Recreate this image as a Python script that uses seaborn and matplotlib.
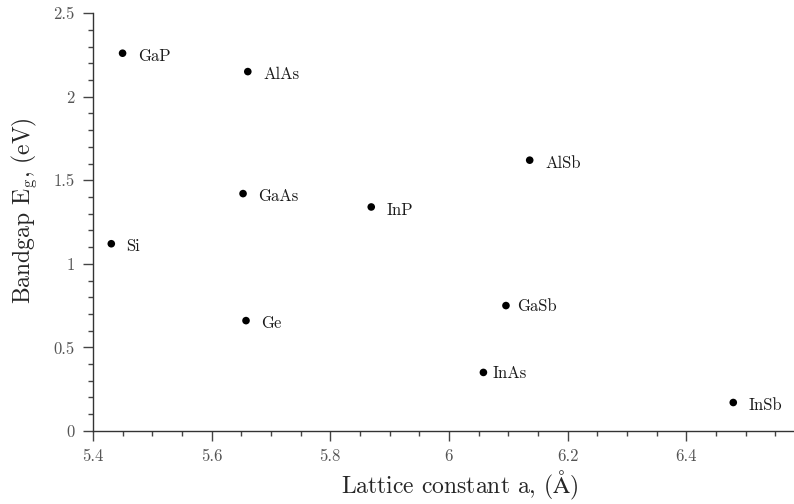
import matplotlib
matplotlib.use("Agg")
import pandas as pd
import seaborn as sns
import matplotlib.pyplot as plt
from matplotlib.ticker import MultipleLocator, StrMethodFormatter

# semiconductor lattice constants and bandgaps
materials = ['GaP', 'AlAs', 'AlSb', 'GaAs', 'InP', 'Si', 'Ge', 'GaSb', 'InAs', 'InSb']
lattice = [5.450, 5.661, 6.136, 5.653, 5.869, 5.431, 5.658, 6.096, 6.058, 6.479]
bandgap = [2.26, 2.15, 1.62, 1.42, 1.34, 1.12, 0.66, 0.75, 0.35, 0.17]

df = pd.DataFrame({'material': materials, 'a': lattice, 'Eg': bandgap})

# label offsets in points (a few labels sit closer to their dot)
label_offset = {'GaSb': (8, -4), 'InAs': (6.5, -4)}

sns.set_style('ticks')
plt.rcParams['font.family'] = ['cmr10', 'DejaVu Serif']
plt.rcParams['mathtext.fontset'] = 'cm'
plt.rcParams['axes.formatter.use_mathtext'] = True

fig = plt.figure(figsize=(7.94, 5.04), dpi=100)
ax = fig.add_axes([0.117, 0.145, 0.882, 0.829])

sns.scatterplot(data=df, x='a', y='Eg', color='black', s=30, edgecolor='none', ax=ax)

for name, x, y in zip(df['material'], df['a'], df['Eg']):
    dx, dy = label_offset.get(name, (11, -5.5))
    ax.annotate(name, (x, y), xytext=(dx, dy), textcoords='offset points',
                fontsize=12, color='#1a1a1a', va='baseline', ha='left')

ax.set_xlim(5.4, 6.58)
ax.set_ylim(0, 2.5)
ax.xaxis.set_major_locator(MultipleLocator(0.2))
ax.xaxis.set_minor_locator(MultipleLocator(0.05))
ax.yaxis.set_major_locator(MultipleLocator(0.5))
ax.yaxis.set_minor_locator(MultipleLocator(0.1))
ax.xaxis.set_major_formatter(StrMethodFormatter('{x:g}'))
ax.yaxis.set_major_formatter(StrMethodFormatter('{x:g}'))

sns.despine(ax=ax)
for side in ['left', 'bottom']:
    ax.spines[side].set_color('#333333')
    ax.spines[side].set_linewidth(1.0)
ax.tick_params(which='major', length=7, width=1, color='#444444',
               labelsize=12, labelcolor='#555555', pad=6)
ax.tick_params(which='minor', length=3.5, width=1, color='#444444')

ax.set_xlabel(r'Lattice constant a, ($\mathrm{\AA}$)', fontsize=17)
ax.set_ylabel(r'Bandgap E$_\mathrm{g}$, (eV)', fontsize=17)
ax.xaxis.set_label_coords(0.524, -0.092)
ax.yaxis.set_label_coords(-0.077, 0.527)

fig.savefig('out.png', dpi=100)
